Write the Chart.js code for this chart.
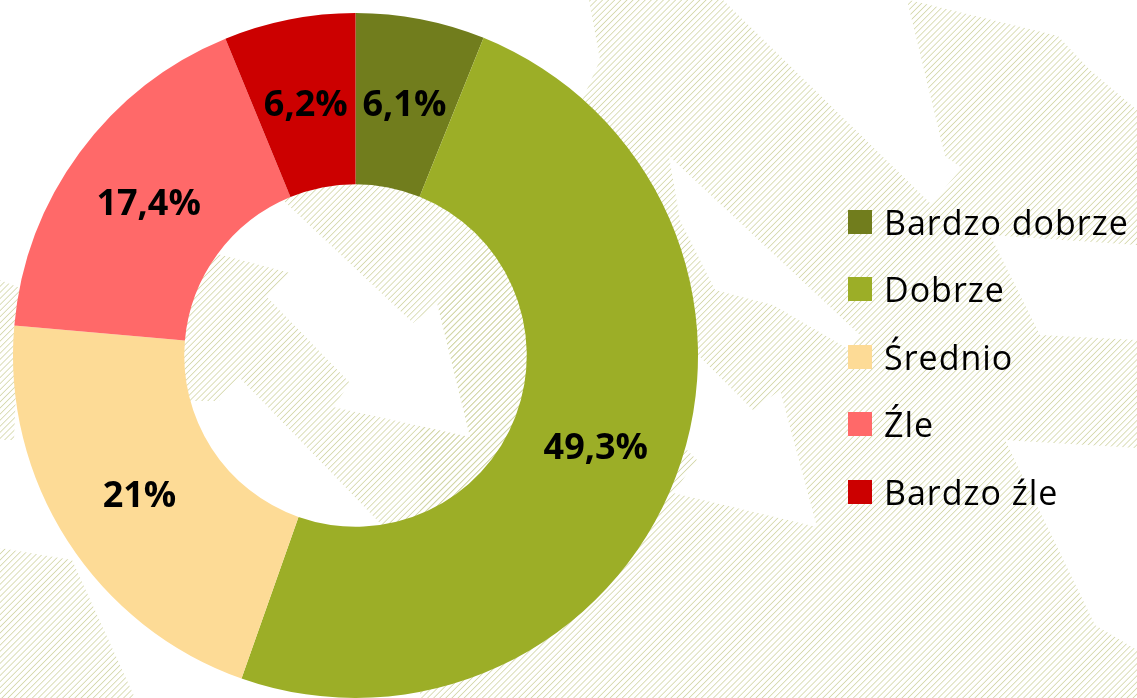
<!DOCTYPE html>
<html lang="pl">
<head>
  <meta charset="UTF-8" />
  <title>Ocena – wykres pierścieniowy</title>
  <script src="https://cdn.jsdelivr.net/npm/chart.js"></script>
  <style>
    html, body {
      margin: 0;
      padding: 0;
      background: #fff;
    }
    body {
      width: 1137px;
      height: 698px;
      position: relative;
      overflow: hidden;
      font-family: 'Open Sans', sans-serif;
    }
    #bg, #chart {
      position: absolute;
      left: 0;
      top: 0;
    }
    #legend {
      position: absolute;
      left: 848px;
      top: 188px;
      margin: 0;
      padding: 0;
      list-style: none;
    }
    #legend li {
      display: flex;
      align-items: center;
      height: 67.5px;
      font-size: 34px;
      letter-spacing: 1px;
      color: #000;
      white-space: nowrap;
    }
    #legend .box {
      width: 24px;
      height: 24px;
      margin-right: 12px;
      flex: none;
    }
  </style>
</head>
<body>
  <!-- hatched arrow wallpaper behind the chart -->
  <svg id="bg" width="1137" height="698">
    <defs>
      <pattern id="hatch" width="4.3" height="4.3" patternUnits="userSpaceOnUse" patternTransform="rotate(45)">
        <line x1="0" y1="0" x2="0" y2="4.3" stroke="#d3d6a8" stroke-width="1.6" />
      </pattern>
    </defs>
    <g fill="url(#hatch)">
      <polygon points="589,0 1137,0 1137,698 420,698 420,330 560,150 600,60" />
      <polygon points="0,280 20,288 14,440 0,440" />
      <polygon points="0,548 72,560 135,698 0,698" />
      <polygon points="175,175 535,175 535,535 175,535" />
    </g>
    <g fill="#fff">
      <polygon points="160,130 230,150 413,323 437,303 470,437 333,407 350,383 267,297 290,273 183,245 160,240" />
      <polygon points="150,401 219,401 239,377 430,575 150,575" />
      <polygon points="669,156 860,335 850,350 773,305 715,290 680,220" />
      <polygon points="600,257 753,410 780,390 817,527 673,493 697,460 590,353" />
      <polygon points="723,0 907,0 945,156 962,168 931,204" />
      <polygon points="909,0 1137,0 1137,110 1090,70 1058,36" />
      <polygon points="990,235 1137,245 1137,340 1040,335" />
      <polygon points="1005,440 1137,448 1137,650 1095,625" />
    </g>
  </svg>

  <canvas id="chart" width="1137" height="698"></canvas>
  <ul id="legend"></ul>

  <script>
    const labels = ['Bardzo dobrze', 'Dobrze', 'Średnio', 'Źle', 'Bardzo źle'];
    const values = [6.1, 49.3, 21, 17.4, 6.2];
    const colors = ['#717d1d', '#9cae27', '#fddb96', '#ff6969', '#cc0000'];

    const fmt = v => String(v).replace('.', ',') + '%';

    // percentage written in the middle of every ring segment
    const sliceLabels = {
      id: 'sliceLabels',
      afterDatasetsDraw(chart) {
        const ctx = chart.ctx;
        const meta = chart.getDatasetMeta(0);
        ctx.save();
        ctx.font = 'bold 36px "Open Sans", sans-serif';
        ctx.fillStyle = '#000';
        ctx.textAlign = 'center';
        ctx.textBaseline = 'middle';
        meta.data.forEach((arc, i) => {
          const p = arc.tooltipPosition();
          ctx.fillText(fmt(values[i]), p.x, p.y + 2);
        });
        ctx.restore();
      }
    };

    new Chart(document.getElementById('chart'), {
      type: 'doughnut',
      data: {
        labels: labels,
        datasets: [{
          data: values,
          backgroundColor: colors,
          borderWidth: 0
        }]
      },
      options: {
        responsive: false,
        animation: false,
        cutout: '50%',
        layout: { padding: { left: 13, top: 13, right: 439, bottom: 0 } },
        plugins: {
          legend: { display: false },
          tooltip: { enabled: false }
        }
      },
      plugins: [sliceLabels]
    });

    const legend = document.getElementById('legend');
    labels.forEach((name, i) => {
      const li = document.createElement('li');
      const box = document.createElement('span');
      box.className = 'box';
      box.style.background = colors[i];
      li.appendChild(box);
      li.appendChild(document.createTextNode(name));
      legend.appendChild(li);
    });
  </script>
</body>
</html>
